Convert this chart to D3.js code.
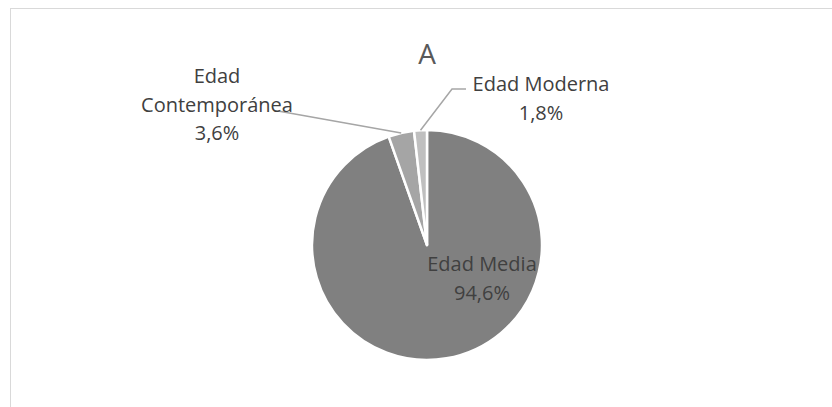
<!DOCTYPE html>
<html>
<head>
<meta charset="utf-8">
<script src="https://cdn.jsdelivr.net/npm/d3@7"></script>
<style>
  html, body { margin: 0; padding: 0; background: #fff; }
  svg { display: block; font-family: "Open Sans", "Noto Sans", sans-serif; }
</style>
</head>
<body>
<svg id="chart" width="832" height="407"></svg>
<script>
// Period shares
const categories = ["Edad Media", "Edad Contemporánea", "Edad Moderna"];
const values = [94.6, 3.6, 1.8];
const colors = ["#808080", "#a5a5a5", "#bfbfbf"];
const title = "A";

// Label layout: text lines, anchor centre, first baseline, and leader elbow
const labelLines = [["Edad Media"], ["Edad", "Contemporánea"], ["Edad Moderna"]];
const labelPos = [
  { x: 482, y: 271, leader: null },
  { x: 217, y: 83, leader: [[278, 111]] },
  { x: 541, y: 91, leader: [[452, 89], [466, 89]] }
];

const svg = d3.select("#chart");
const cx = 427, cy = 245, r = 115;

// chart frame
svg.append("rect")
  .attr("x", 10.5).attr("y", 8.5)
  .attr("width", 900).attr("height", 500)
  .attr("fill", "none").attr("stroke", "#d9d9d9").attr("stroke-width", 1);

svg.append("text")
  .attr("x", cx).attr("y", 64)
  .attr("text-anchor", "middle")
  .attr("font-size", 28)
  .attr("fill", "#595959")
  .text(title);

const pie = d3.pie().sort(null).value(d => d)(values);
const arc = d3.arc().innerRadius(0).outerRadius(r);
const edge = d3.arc().innerRadius(r).outerRadius(r);

const g = svg.append("g").attr("transform", `translate(${cx},${cy})`);

g.selectAll("path.slice")
  .data(pie)
  .join("path")
  .attr("class", "slice")
  .attr("d", arc)
  .attr("fill", (d, i) => colors[i])
  .attr("stroke", "#fff")
  .attr("stroke-width", 2.5)
  .attr("stroke-linejoin", "round");

const fmt = v => d3.format(".1f")(v).replace(".", ",") + "%";

pie.forEach((d, i) => {
  const p = labelPos[i];
  if (p.leader) {
    const c = edge.centroid(d);
    const pts = [[cx + c[0], cy + c[1]], ...p.leader];
    svg.append("path")
      .attr("d", d3.line()(pts))
      .attr("fill", "none")
      .attr("stroke", "#a6a6a6")
      .attr("stroke-width", 1.5);
  }
  const lines = [...labelLines[i], fmt(values[i])];
  const t = svg.append("text")
    .attr("text-anchor", "middle")
    .attr("font-size", 20)
    .attr("fill", "#404040");
  lines.forEach((s, k) => {
    t.append("tspan")
      .attr("x", p.x)
      .attr("y", p.y + k * 28.7)
      .text(s);
  });
});
</script>
</body>
</html>
